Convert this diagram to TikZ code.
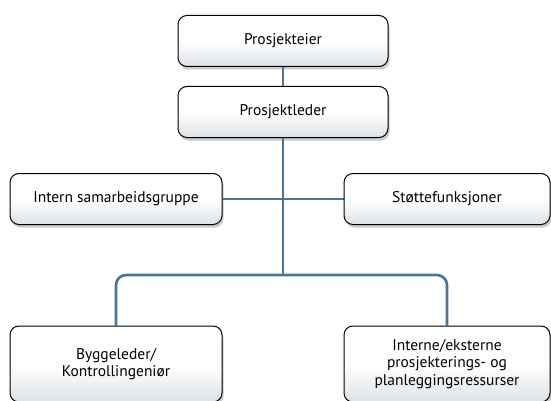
\documentclass[tikz,border=0pt]{standalone}
\usepackage{fontspec}
\setmainfont{PT Sans}
\usetikzlibrary{shadows,backgrounds}
\definecolor{linkblue}{HTML}{4A7596}
\definecolor{boxgray}{HTML}{DDE2E8}

\begin{document}
\begin{tikzpicture}[x=1pt,y=-1pt,
  orgbox/.style={draw=black,line width=1pt,rounded corners=9pt,
    top color=white,bottom color=boxgray,middle color=white,
    minimum width=210pt,minimum height=51pt,align=center,
    font=\fontsize{15.5}{17.5}\selectfont,
    drop shadow={shadow xshift=1.5pt,shadow yshift=-3pt,opacity=0.35,fill=black!60}},
  link/.style={draw=linkblue,line width=2.6pt}]
\useasboundingbox (0,0) rectangle (551,401);
\node[orgbox] (eier) at (283,41) {Prosjekteier};
\node[orgbox] (leder) at (283,112) {Prosjektleder};
\node[orgbox,minimum width=212pt] (intern) at (116,199) {Intern samarbeidsgruppe};
\node[orgbox,minimum width=206pt] (stotte) at (447,199) {Støttefunksjoner};
\node[orgbox,minimum width=212pt,minimum height=76pt] (bygg) at (116,364) {Byggeleder/\\Kontrollingeniør};
\node[orgbox,minimum width=206pt,minimum height=76pt] (ressurs) at (447,364) {Interne/eksterne\\prosjekterings- og\\planleggingsressurser};
\coordinate (split) at (283,275);
% connectors behind the boxes
\begin{scope}[on background layer]
\draw[link] (eier) -- (leder);
\draw[link] (leder) -- (split);
\draw[link] (intern) -- (stotte);
\draw[link,rounded corners=10pt] (bygg.north) |- (split) -| (ressurs.north);
\end{scope}
\end{tikzpicture}
\end{document}
